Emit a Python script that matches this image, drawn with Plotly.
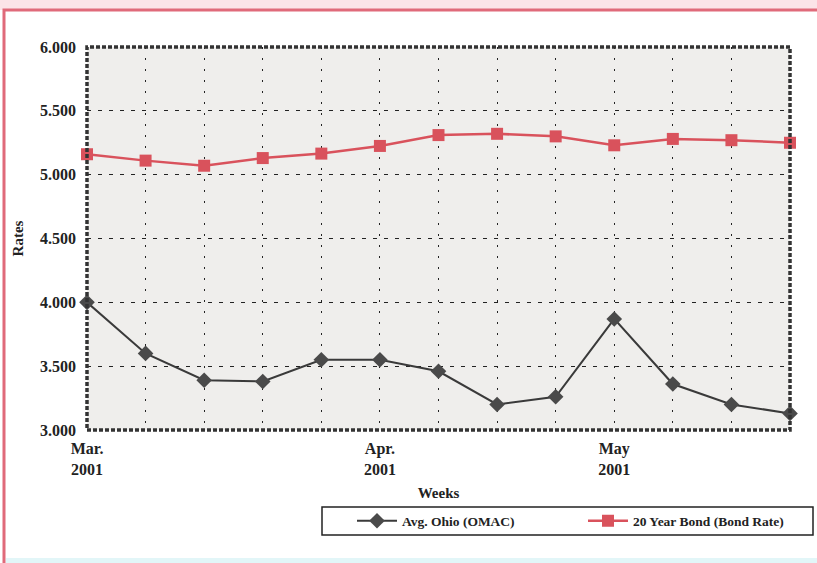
import plotly.graph_objects as go

weeks = list(range(13))
week_labels = ["Mar.<br>2001", "", "", "", "", "Apr.<br>2001", "", "", "", "May<br>2001", "", "", ""]
ohio = [4.00, 3.60, 3.39, 3.38, 3.55, 3.55, 3.46, 3.20, 3.26, 3.87, 3.36, 3.20, 3.13]
bond = [5.16, 5.11, 5.07, 5.13, 5.165, 5.225, 5.31, 5.32, 5.30, 5.23, 5.28, 5.27, 5.25]
y_ticks = [3.0, 3.5, 4.0, 4.5, 5.0, 5.5, 6.0]

FONT = "Liberation Serif"

fig = go.Figure()
fig.add_trace(go.Scatter(
    x=weeks, y=ohio, name="<b>Avg. Ohio (OMAC)</b>", mode="lines+markers",
    line=dict(color="#3a3a3a", width=2),
    marker=dict(symbol="diamond", size=12, color="#4a4a4a"),
    cliponaxis=False, legend="legend",
))
fig.add_trace(go.Scatter(
    x=weeks, y=bond, name="<b>20 Year Bond (Bond Rate)</b>", mode="lines+markers",
    line=dict(color="#d9525c", width=2.5),
    marker=dict(symbol="square", size=12, color="#d9525c"),
    cliponaxis=False, legend="legend2",
))

W, H = 817, 563
L, R, T, B = 87, 27, 47, 133
pw, ph = W - L - R, H - T - B

def px(x):
    return (x - L) / pw

def py(y):
    return 1 - (y - T) / ph

shapes = [
    dict(type="rect", xref="paper", yref="paper", x0=px(0), x1=px(W), y0=py(10), y1=py(0),
         fillcolor="#fbe4e8", line=dict(width=0), layer="below"),
    dict(type="rect", xref="paper", yref="paper", x0=px(6), x1=px(W), y0=py(H), y1=py(558),
         fillcolor="#e2f6f8", line=dict(width=0), layer="below"),
    dict(type="rect", xref="paper", yref="paper", x0=px(4), x1=px(W + 10), y0=py(H + 10), y1=py(10),
         line=dict(color="#e06a7a", width=3), fillcolor="rgba(0,0,0,0)", layer="below"),
    dict(type="rect", xref="paper", yref="paper", x0=0, x1=1, y0=0, y1=1,
         line=dict(color="#333333", width=3.5, dash="4px,2px"), layer="above"),
    dict(type="rect", xref="paper", yref="paper", x0=px(322), x1=px(813), y0=py(535), y1=py(507),
         line=dict(color="#222222", width=1.5), fillcolor="white"),
]

leg_common = dict(orientation="h", xanchor="left", yanchor="middle", itemwidth=40,
                  bgcolor="rgba(0,0,0,0)", font=dict(family=FONT, size=13.5, color="#222222"))

fig.update_layout(
    width=W, height=H,
    margin=dict(l=L, r=R, t=T, b=B, autoexpand=False),
    paper_bgcolor="white",
    plot_bgcolor="#efeeec",
    font=dict(family=FONT, color="#222222", size=16),
    shapes=shapes,
    showlegend=True,
    legend=dict(x=px(352), y=py(521), **leg_common),
    legend2=dict(x=px(583), y=py(521), **leg_common),
    xaxis=dict(
        range=[0, 12], tickvals=weeks, ticktext=["<b>%s</b>" % t if t else "" for t in week_labels],
        showgrid=True, gridcolor="#222222", griddash="2px,9px", gridwidth=1,
        zeroline=False, ticks="", showline=False, ticklabelstandoff=7,
        title=dict(text="<b>Weeks</b>", font=dict(size=15), standoff=10),
        tickfont=dict(size=16),
    ),
    yaxis=dict(
        range=[3, 6], tickvals=y_ticks, ticktext=["<b>%.3f</b>" % v for v in y_ticks],
        showgrid=True, gridcolor="#222222", griddash="4px,7px", gridwidth=1,
        zeroline=False, ticks="", showline=False, ticklabelstandoff=10,
        title=dict(text="<b>Rates</b>", font=dict(size=15), standoff=12),
        tickfont=dict(size=16),
    ),
)

fig.write_html("out.html", config={"displayModeBar": False},
               post_script="document.body.style.margin='0';")
